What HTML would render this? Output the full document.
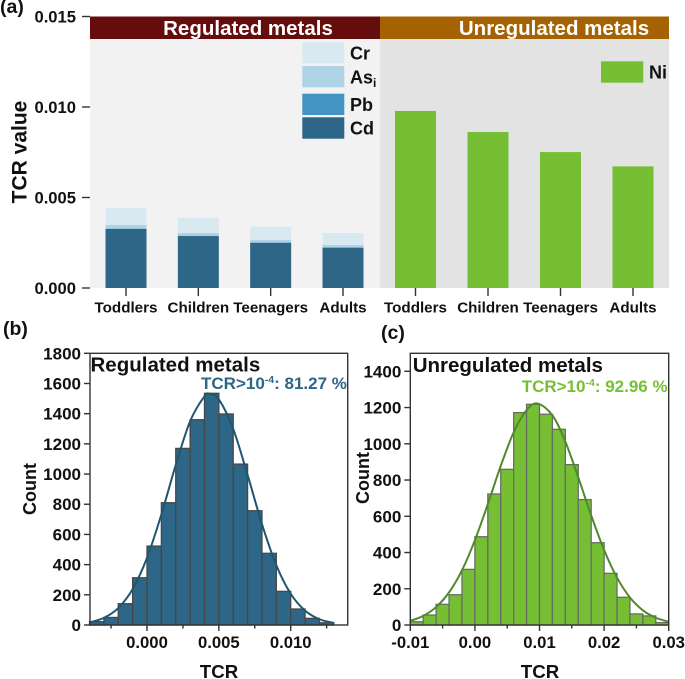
<!DOCTYPE html>
<html>
<head>
<meta charset="utf-8">
<style>
html,body{margin:0;padding:0;background:#fff;width:685px;height:679px;overflow:hidden}
svg{display:block}
text{font-family:"Liberation Sans",Arial,sans-serif;font-weight:bold;fill:#111}
</style>
</head>
<body>
<svg id="chart" xmlns="http://www.w3.org/2000/svg" width="685" height="679" viewBox="0 0 685 679">
  <text x="0" y="13" font-size="19.5">(a)</text>
  <text x="3" y="335" font-size="19.5">(b)</text>
  <text x="381" y="339" font-size="19.5">(c)</text>

  <rect x="90" y="39" width="290" height="249" fill="#f2f2f2"/>
  <rect x="380" y="39" width="289" height="249" fill="#e3e3e3"/>
  <rect x="90" y="16.5" width="290" height="22.5" fill="#640d0c"/>
  <rect x="380" y="16.5" width="289" height="22.5" fill="#a56203"/>
  <text x="248" y="35" font-size="20.5" text-anchor="middle" style="fill:#fff">Regulated metals</text>
  <text x="554" y="35" font-size="20.5" text-anchor="middle" style="fill:#fff">Unregulated metals</text>
  <text transform="translate(26.5,152) rotate(-90)" font-size="21" text-anchor="middle">TCR value</text>

  <g id="panelA"></g>

  <g>
    <rect x="302.3" y="42.3" width="42" height="21" fill="#d9e9f2"/>
    <rect x="302.3" y="66" width="42" height="21.3" fill="#afd2e6"/>
    <rect x="302.3" y="93.7" width="42" height="21.3" fill="#4393c3"/>
    <rect x="302.3" y="117.3" width="42" height="21.4" fill="#2d6687"/>
    <text x="350" y="59.5" font-size="18">Cr</text>
    <text x="350" y="83.5" font-size="18">As<tspan font-size="12" dy="3.5">i</tspan></text>
    <text x="350" y="111" font-size="18">Pb</text>
    <text x="350" y="134.3" font-size="18">Cd</text>
  </g>
  <g>
    <rect x="601" y="61.3" width="42.3" height="21.4" fill="#76bf35"/>
    <text x="649" y="78.5" font-size="18">Ni</text>
  </g>

  <g id="panelB"></g>
  <g id="panelC"></g>

  <text x="90.5" y="371.7" font-size="20.5">Regulated metals</text>
  <text x="201" y="389" font-size="17" style="fill:#2d6687">TCR&gt;10<tspan font-size="10.5" dy="-6">-4</tspan><tspan dy="6">: 81.27 %</tspan></text>
  <text transform="translate(36,489) rotate(-90)" font-size="18" text-anchor="middle">Count</text>
  <text x="219" y="678" font-size="18.7" text-anchor="middle">TCR</text>

  <text x="412.7" y="372" font-size="20.5">Unregulated metals</text>
  <text x="521.7" y="392" font-size="17" style="fill:#76bf35">TCR&gt;10<tspan font-size="10.5" dy="-6">-4</tspan><tspan dy="6">: 92.96 %</tspan></text>
  <text transform="translate(369,478) rotate(-90)" font-size="18" text-anchor="middle">Count</text>
  <text x="540" y="678" font-size="18.7" text-anchor="middle">TCR</text>
</svg>
<script>
// Panel (a) data
var groupLabels = ["Toddlers", "Children", "Teenagers", "Adults"];
var cdValues = [0.00326, 0.00287, 0.00250, 0.00223];
var pbValues = [0.00002, 0.00002, 0.00002, 0.00002];
var asValues = [0.00020, 0.00015, 0.00013, 0.00013];
var crValues = [0.00094, 0.00084, 0.00074, 0.00066];
var niValues = [0.00978, 0.00862, 0.00751, 0.00672];
var aTickValues = [0, 0.005, 0.010, 0.015];
var aTickLabels = ["0.000", "0.005", "0.010", "0.015"];

// Panel (b) data
var regBinStarts = [-0.004, -0.003, -0.002, -0.001, 0, 0.001, 0.002, 0.003, 0.004, 0.005, 0.006, 0.007, 0.008, 0.009, 0.010, 0.011, 0.012];
var regCounts = [22, 50, 141, 313, 523, 810, 1170, 1360, 1535, 1398, 1066, 757, 475, 223, 106, 44, 15];
var regCurveX = [-0.004, -0.003, -0.002, -0.001, 0, 0.001, 0.002, 0.003, 0.004, 0.0044, 0.005, 0.006, 0.007, 0.008, 0.009, 0.010, 0.011, 0.012, 0.013];
var regCurveY = [17, 47, 112, 238, 445, 732, 1060, 1350, 1515, 1530, 1495, 1299, 994, 669, 396, 207, 95, 38, 14];
var bYTicks = [0, 200, 400, 600, 800, 1000, 1200, 1400, 1600, 1800];
var bXTicks = [0, 0.005, 0.010];
var bXTickLabels = ["0.000", "0.005", "0.010"];
var bXMinorTicks = [-0.0025, 0.0025, 0.0075, 0.0125];

// Panel (c) data
var unregBinStarts = [-0.010, -0.008, -0.006, -0.004, -0.002, 0, 0.002, 0.004, 0.006, 0.008, 0.010, 0.012, 0.014, 0.016, 0.018, 0.020, 0.022, 0.024, 0.026, 0.028];
var unregCounts = [18, 55, 114, 167, 307, 487, 723, 859, 1172, 1218, 1163, 1080, 885, 692, 454, 285, 153, 61, 50, 13];
var unregCurveX = [-0.010, -0.008, -0.006, -0.004, -0.002, 0, 0.002, 0.004, 0.006, 0.008, 0.0097, 0.012, 0.014, 0.016, 0.018, 0.020, 0.022, 0.024, 0.026, 0.028, 0.030];
var unregCurveY = [23, 50, 99, 180, 302, 468, 667, 878, 1063, 1186, 1222, 1157, 1012, 815, 605, 414, 261, 152, 81, 40, 18];
var cYTicks = [0, 200, 400, 600, 800, 1000, 1200, 1400];
var cXTicks = [-0.01, 0, 0.01, 0.02, 0.03];
var cXTickLabels = ["-0.01", "0.00", "0.01", "0.02", "0.03"];
var cXMinorTicks = [-0.005, 0.005, 0.015, 0.025];

var NS = "http://www.w3.org/2000/svg";
var AXIS = "#333333";

function linear(d0, d1, r0, r1) {
  return function (v) { return r0 + (v - d0) / (d1 - d0) * (r1 - r0); };
}
function make(parent, tag, attrs) {
  var el = document.createElementNS(NS, tag);
  for (var k in attrs) el.setAttribute(k, attrs[k]);
  parent.appendChild(el);
  return el;
}
function label(parent, x, y, str, size, anchor) {
  var el = make(parent, "text", { x: x, y: y, "font-size": size, "text-anchor": anchor });
  el.textContent = str;
  return el;
}
function tick(parent, x1, y1, x2, y2) {
  return make(parent, "line", { x1: x1, y1: y1, x2: x2, y2: y2, stroke: AXIS, "stroke-width": 1.4 });
}
function smoothPath(xs, ys) {
  var d = "M" + xs[0].toFixed(2) + " " + ys[0].toFixed(2);
  for (var i = 0; i < xs.length - 1; i++) {
    var a = Math.max(i - 1, 0), b = i + 1, c = Math.min(i + 2, xs.length - 1);
    d += " C" + (xs[i] + (xs[b] - xs[a]) / 6).toFixed(2) + " " + (ys[i] + (ys[b] - ys[a]) / 6).toFixed(2) +
         " " + (xs[b] - (xs[c] - xs[i]) / 6).toFixed(2) + " " + (ys[b] - (ys[c] - ys[i]) / 6).toFixed(2) +
         " " + xs[b].toFixed(2) + " " + ys[b].toFixed(2);
  }
  return d;
}

// ---- Panel (a) ----
var aY = linear(0, 0.015, 288, 16.5);
var aLeftX = linear(0, 3, 126, 343);
var aRightX = linear(0, 3, 415.5, 633);
var aBarW = 41;
var pa = document.getElementById("panelA");
var stackSeries = [
  { name: "cd", values: cdValues, fill: "#2d6687" },
  { name: "pb", values: pbValues, fill: "#4393c3" },
  { name: "as", values: asValues, fill: "#afd2e6" },
  { name: "cr", values: crValues, fill: "#d9e9f2" }
];
groupLabels.forEach(function (name, i) {
  var base = 0;
  stackSeries.forEach(function (s) {
    var top = base + s.values[i];
    var r = make(pa, "rect", { x: aLeftX(i) - aBarW / 2, y: aY(top), width: aBarW, height: aY(base) - aY(top), fill: s.fill });
    
    
    base = top;
  });
  var n = make(pa, "rect", { x: aRightX(i) - aBarW / 2, y: aY(niValues[i]), width: aBarW, height: aY(0) - aY(niValues[i]), fill: "#76bf35" });
  
  

  [aLeftX(i), aRightX(i)].forEach(function (x) {
    var t = tick(pa, x, 288, x, 296);
    
    
    var l = label(pa, x, 312.7, name, 15.2, "middle");
    
    
  });
});
aTickValues.forEach(function (v, i) {
  var t = tick(pa, 82, aY(v), 90, aY(v));
  
  
  var l = label(pa, 76, aY(v) + 6, aTickLabels[i], 16.6, "end");
  
  
});

// ---- Histogram panels ----
function histogram(cfg) {
  var g = cfg.group, x = cfg.x, y = cfg.y;
  cfg.starts.forEach(function (s, i) {
    var b = make(g, "rect", {
      x: x(s), y: y(cfg.counts[i]), width: x(s + cfg.binWidth) - x(s), height: y(0) - y(cfg.counts[i]),
      fill: cfg.fill, stroke: cfg.barStroke, "stroke-width": 1.3
    });
    
    
  });
  var cxs = cfg.curveX.map(x), cys = cfg.curveY.map(y);
  var c = make(g, "path", { d: smoothPath(cxs, cys), fill: "none", stroke: cfg.curveColor, "stroke-width": 2 });
  
  
  var f = make(g, "rect", { x: cfg.left, y: cfg.top, width: cfg.right - cfg.left, height: cfg.bottom - cfg.top, fill: "none", stroke: AXIS, "stroke-width": 1.4 });
  
  
  cfg.yTicks.forEach(function (v) {
    var t = tick(g, cfg.left - 6, y(v), cfg.left, y(v));
    
    
    var l = label(g, cfg.left - 9, y(v) + 6, String(v), 17, "end");
    
    
  });
  cfg.xTicks.forEach(function (v, i) {
    var t = tick(g, x(v), cfg.bottom, x(v), cfg.bottom + 6);
    
    
    var l = label(g, x(v), 648, cfg.xLabels[i], 16.7, "middle");
    
    
  });
  cfg.xMinor.forEach(function (v) {
    var t = tick(g, x(v), cfg.bottom, x(v), cfg.bottom + 3.5);
    
    
  });
}

histogram({
  group: document.getElementById("panelB"),
  x: linear(0, 0.010, 147, 290.7),
  y: linear(0, 1800, 625, 353.3),
  left: 90, right: 347.7, top: 353.3, bottom: 625,
  starts: regBinStarts, counts: regCounts, binWidth: 0.001,
  curveX: regCurveX, curveY: regCurveY,
  fill: "#2d6687", barStroke: "#474747", curveColor: "#1f5670",
  yTicks: bYTicks, xTicks: bXTicks, xLabels: bXTickLabels, xMinor: bXMinorTicks
});

histogram({
  group: document.getElementById("panelC"),
  x: linear(-0.01, 0.03, 410.3, 668.7),
  y: linear(0, 1400, 625, 371.3),
  left: 410.3, right: 668.7, top: 353.3, bottom: 625,
  starts: unregBinStarts, counts: unregCounts, binWidth: 0.002,
  curveX: unregCurveX, curveY: unregCurveY,
  fill: "#76bf35", barStroke: "#666e60", curveColor: "#4f8a2a",
  yTicks: cYTicks, xTicks: cXTicks, xLabels: cXTickLabels, xMinor: cXMinorTicks
});
</script>
</body>
</html>
